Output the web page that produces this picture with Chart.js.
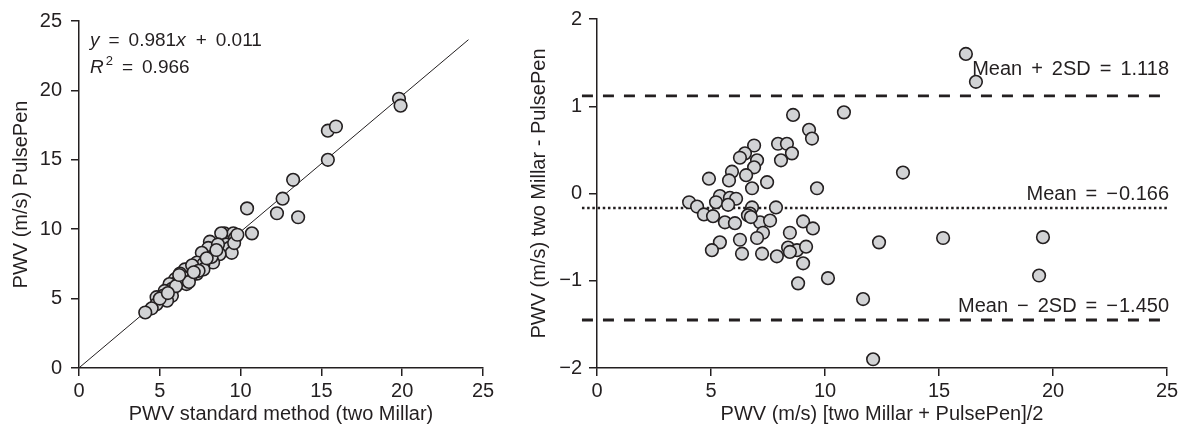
<!DOCTYPE html>
<html>
<head>
<meta charset="utf-8">
<script src="https://cdn.jsdelivr.net/npm/chart.js@4.4.0/dist/chart.umd.min.js"></script>
<style>
  html, body { margin: 0; padding: 0; background: #fff; }
  #wrap { position: relative; width: 1182px; height: 426px; }
  #leftBox { position: absolute; left: 0; top: 0; width: 520px; height: 426px; }
  #rightBox { position: absolute; left: 520px; top: 0; width: 662px; height: 426px; }
</style>
</head>
<body>
<div id="wrap">
  <div id="leftBox"><canvas id="corrChart"></canvas></div>
  <div id="rightBox"><canvas id="baChart"></canvas></div>
</div>
<script>
// Correlation plot: two Millar (x) vs PulsePen (y)
const millarX = [19.8, 19.9, 15.4, 15.9, 15.4, 13.25, 12.6, 10.4, 12.25, 13.56,
  10.7, 9.0, 9.55, 8.8, 9.65, 9.1, 9.3, 9.45, 8.1, 8.0,
  8.7, 7.6, 8.3, 7.3, 7.7, 7.7, 6.9, 7.3, 6.55, 6.9,
  6.25, 5.95, 6.35, 6.65, 6.05, 5.6, 5.75, 5.3, 5.2, 5.75,
  4.8, 5.45, 4.8, 4.5, 4.1, 8.6, 9.6, 7.0, 6.5, 6.0,
  8.2, 7.9, 5.0, 6.8, 9.8, 7.4, 8.5, 6.2, 5.5, 7.1];
const pulsePenY = [19.4, 18.9, 17.1, 17.4, 15.0, 13.56, 12.2, 11.5, 11.15, 10.86,
  9.7, 9.7, 9.7, 9.7, 9.36, 8.9, 8.65, 8.3, 9.1, 8.65,
  8.2, 8.3, 7.6, 7.6, 7.5, 7.1, 7.2, 6.8, 7.1, 6.6,
  6.8, 6.4, 6.15, 6.05, 6.15, 6.05, 5.7, 5.55, 5.2, 5.2,
  5.1, 4.85, 4.6, 4.3, 4.0, 8.9, 9.0, 7.4, 6.5, 5.9,
  8.0, 7.9, 5.0, 6.2, 9.6, 7.0, 8.5, 6.7, 5.4, 6.9];
const slope = 0.981;
const intercept = 0.011;
const fitRange = [0, 24.1];
const corrTicks = [0, 5, 10, 15, 20, 25];

// Bland-Altman plot: mean of methods (x) vs difference (y)
const meanX = [8.60, 10.83, 9.30, 9.43, 6.89, 7.94, 8.33, 8.55, 8.07, 6.49,
  6.27, 7.02, 6.89, 5.92, 6.54, 5.79, 4.91, 7.46, 6.80, 9.65,
  5.39, 5.83, 6.10, 5.22, 4.04, 4.39, 6.80, 7.85, 6.71, 4.69,
  5.09, 9.04, 5.75, 5.61, 6.05, 6.62, 7.15, 7.59, 7.28, 7.02,
  6.27, 5.39, 5.04, 6.36, 7.24, 7.89, 8.46, 9.47, 8.38, 8.77,
  9.17, 8.46, 9.04, 8.82, 10.13, 11.67, 12.11, 12.37, 16.18, 16.62,
  13.42, 15.18, 19.56, 19.39, 6.75];
const diffY = [0.90, 0.93, 0.73, 0.63, 0.55, 0.57, 0.57, 0.46, 0.38, 0.46,
  0.41, 0.38, 0.30, 0.25, 0.21, 0.15, 0.17, 0.13, 0.06, 0.06,
  -0.03, -0.05, -0.06, -0.10, -0.10, -0.15, -0.16, -0.16, -0.23, -0.24,
  -0.26, -0.32, -0.13, -0.33, -0.34, -0.25, -0.33, -0.31, -0.45, -0.51,
  -0.53, -0.56, -0.65, -0.69, -0.69, -0.72, -0.45, -0.40, -0.62, -0.65,
  -0.61, -0.67, -0.80, -1.03, -0.97, -1.21, -1.90, -0.56, 1.60, 1.28,
  0.24, -0.51, -0.50, -0.94, -0.27];
const meanDiff = -0.166;
const upperLimit = 1.118;
const lowerLimit = -1.450;
const baTicksX = [0, 5, 10, 15, 20, 25];
const baTicksY = [-2, -1, 0, 1, 2];

const INK = '#231f20';
const FONT = 'Liberation Sans, Arial, sans-serif';
const tickFont = { family: FONT, size: 20 };
const titleFont = { family: FONT, size: 20 };

const pointStyle = {
  pointRadius: 6.3,
  pointHoverRadius: 6.3,
  pointBackgroundColor: '#d2d3d5',
  pointBorderColor: INK,
  pointBorderWidth: 1.6,
  showLine: false
};

function fmt(v) {
  return v < 0 ? '\u2212' + Math.abs(v) : String(v);
}

function axis(opts) {
  return {
    type: 'linear',
    min: opts.min,
    max: opts.max,
    afterBuildTicks: s => { s.ticks = opts.ticks.map(v => ({ value: v })); },
    afterFit: opts.fit,
    grid: { display: true, drawOnChartArea: false, drawTicks: true, tickLength: 8, color: INK, lineWidth: 1.5 },
    border: { display: true, color: INK, width: 1.5 },
    ticks: { color: INK, font: tickFont, padding: opts.tickPad, maxRotation: 0, callback: v => fmt(v) },
    title: { display: true, text: opts.title, color: INK, font: titleFont, padding: opts.titlePad }
  };
}

// draw a row of text pieces; operators get extra room on both sides
function drawPieces(c, pieces, x, y, size, alignRight) {
  const gap = 9;
  const widths = pieces.map(p => {
    c.font = (p.italic ? 'italic ' : '') + (p.sup ? 13 : size) + 'px ' + FONT;
    return c.measureText(p.t).width + (p.op ? 2 * gap : 0) + (p.pad || 0);
  });
  let cx = alignRight ? x - widths.reduce((a, b) => a + b, 0) : x;
  c.textAlign = 'left';
  pieces.forEach((p, i) => {
    c.font = (p.italic ? 'italic ' : '') + (p.sup ? 13 : size) + 'px ' + FONT;
    c.fillText(p.t, cx + (p.op ? gap : 0) + (p.pre || 0), p.sup ? y - 8 : y);
    cx += widths[i];
  });
}

// left-side equation text
const equationPlugin = {
  id: 'equation',
  afterDatasetsDraw(chart) {
    const c = chart.ctx;
    c.save();
    c.fillStyle = INK;
    c.textBaseline = 'alphabetic';
    drawPieces(c, [{ t: 'y', italic: true }, { t: '=', op: true }, { t: '0.981' },
      { t: 'x', italic: true, pad: 1 }, { t: '+', op: true }, { t: '0.011' }], 90, 46, 19, false);
    drawPieces(c, [{ t: 'R', italic: true }, { t: '2', sup: true, pre: 2, pad: 2 }, { t: '=', op: true },
      { t: '0.966' }], 90, 73, 19, false);
    c.restore();
  }
};

// right-side limit labels: [pieces, value, pixel offset above line]
const limitLabels = [
  [[{ t: 'Mean' }, { t: '+', op: true }, { t: '2SD' }, { t: '=', op: true }, { t: '1.118' }], upperLimit, 21],
  [[{ t: 'Mean' }, { t: '=', op: true }, { t: '\u2212', pad: 1 }, { t: '0.166' }], meanDiff, 8],
  [[{ t: 'Mean' }, { t: '\u2212', op: true }, { t: '2SD' }, { t: '=', op: true }, { t: '\u2212', pad: 1 }, { t: '1.450' }], lowerLimit, 8]
];
const limitPlugin = {
  id: 'limits',
  afterDatasetsDraw(chart) {
    const c = chart.ctx;
    const ys = chart.scales.y;
    c.save();
    c.fillStyle = INK;
    c.textBaseline = 'alphabetic';
    limitLabels.forEach(([pieces, v, off]) => {
      drawPieces(c, pieces, chart.chartArea.right + 2, ys.getPixelForValue(v) - off, 20, true);
    });
    c.restore();
  }
};

new Chart(document.getElementById('corrChart'), {
  type: 'scatter',
  data: {
    datasets: [
      {
        data: fitRange.map(x => ({ x: x, y: slope * x + intercept })),
        showLine: true, borderColor: INK, borderWidth: 1, pointRadius: 0, order: 2
      },
      Object.assign({ data: millarX.map((x, i) => ({ x: x, y: pulsePenY[i] })), order: 1 }, pointStyle)
    ]
  },
  options: {
    responsive: true,
    maintainAspectRatio: false,
    animation: false,
    layout: { padding: { left: 0, right: 37, top: 18, bottom: 0 } },
    plugins: { legend: { display: false }, tooltip: { enabled: false } },
    scales: {
      x: axis({ min: 0, max: 25, ticks: corrTicks, title: 'PWV standard method (two Millar)',
        fit: s => { s.height = 58; }, tickPad: 3, titlePad: { top: 0, bottom: 0 } }),
      y: axis({ min: 0, max: 25, ticks: corrTicks, title: 'PWV (m/s) PulsePen',
        fit: s => { s.width = 79; }, tickPad: 9, titlePad: { top: 9, bottom: 0 } })
    }
  },
  plugins: [equationPlugin]
});

function hline(v, dash, width) {
  return {
    data: [{ x: -0.66, y: v }, { x: 25, y: v }],
    showLine: true, borderColor: INK, borderWidth: width, borderDash: dash,
    pointRadius: 0, clip: false, order: 2
  };
}

new Chart(document.getElementById('baChart'), {
  type: 'scatter',
  data: {
    datasets: [
      hline(upperLimit, [11, 10], 2.8),
      hline(meanDiff, [2.5, 2.7], 2.5),
      hline(lowerLimit, [11, 10], 2.8),
      Object.assign({ data: meanX.map((x, i) => ({ x: x, y: diffY[i] })), order: 1 }, pointStyle)
    ]
  },
  options: {
    responsive: true,
    maintainAspectRatio: false,
    animation: false,
    layout: { padding: { left: 0, right: 15, top: 18, bottom: 0 } },
    plugins: { legend: { display: false }, tooltip: { enabled: false } },
    scales: {
      x: axis({ min: 0, max: 25, ticks: baTicksX, title: 'PWV (m/s) [two Millar + PulsePen]/2',
        fit: s => { s.height = 58; }, tickPad: 3, titlePad: { top: 0, bottom: 0 } }),
      y: axis({ min: -2, max: 2, ticks: baTicksY, title: 'PWV (m/s) two Millar - PulsePen',
        fit: s => { s.width = 77; }, tickPad: 7, titlePad: { top: 7, bottom: 0 } })
    }
  },
  plugins: [limitPlugin]
});
</script>
</body>
</html>
